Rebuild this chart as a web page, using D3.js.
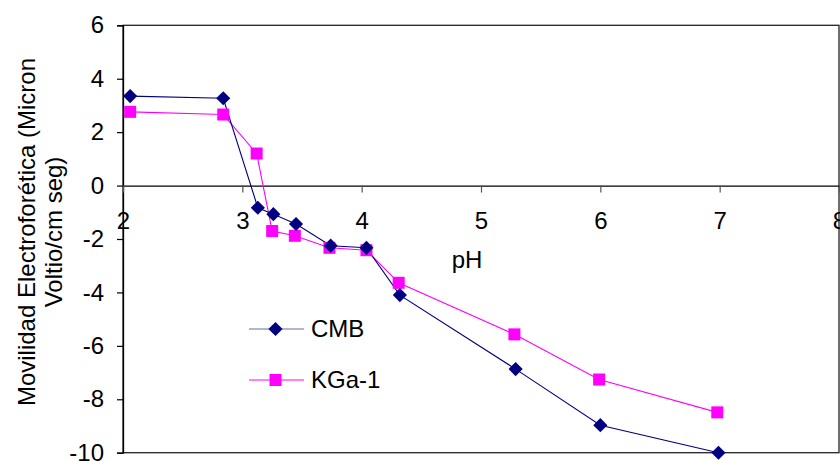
<!DOCTYPE html>
<html>
<head>
<meta charset="utf-8">
<script src="https://cdn.jsdelivr.net/npm/d3@7"></script>
<style>
  html, body { margin: 0; padding: 0; background: #fff; }
  svg { display: block; font-family: "Liberation Sans", Arial, sans-serif; }
</style>
</head>
<body>
<svg id="chart" width="840" height="461"></svg>
<script>
// Electrophoretic mobility vs pH for two clays
const seriesNames = ["CMB", "KGa-1"];
const phCMB = [2.06, 2.84, 3.13, 3.26, 3.45, 3.74, 4.04, 4.32, 5.29, 6.0, 6.99];
const mobCMB = [3.35, 3.27, -0.83, -1.07, -1.44, -2.25, -2.33, -4.1, -6.87, -8.97, -10.0];
const phKGa = [2.06, 2.84, 3.12, 3.25, 3.44, 3.73, 4.04, 4.31, 5.28, 5.99, 6.98];
const mobKGa = [2.76, 2.66, 1.2, -1.7, -1.88, -2.33, -2.42, -3.64, -5.57, -7.26, -8.49];
const xTicks = [2, 3, 4, 5, 6, 7, 8];
const yTicks = [-10, -8, -6, -4, -2, 0, 2, 4, 6];
const colors = ["#000080", "#FF00FF"];

const svg = d3.select("#chart");
const plotLeft = 123, plotRight = 839, plotTop = 25.3, plotBottom = 452.7;
const fontSize = 24;

const x = d3.scaleLinear().domain([2, 8]).range([plotLeft, plotRight]);
const y = d3.scaleLinear().domain([-10, 6]).range([plotBottom, plotTop]);
const plainNum = d => String(d); // hyphen-minus, as in the printed labels

// plot area frame
svg.append("rect")
  .attr("x", plotLeft).attr("y", plotTop)
  .attr("width", plotRight - plotLeft).attr("height", plotBottom - plotTop)
  .attr("fill", "none").attr("stroke", "#222").attr("stroke-width", 1.3);

// y axis
const yAxis = svg.append("g")
  .attr("transform", `translate(${plotLeft},0)`)
  .call(d3.axisLeft(y).tickValues(yTicks).tickSize(6).tickPadding(13).tickFormat(plainNum));
yAxis.select(".domain").attr("stroke", "#000").attr("stroke-width", 1.3);
yAxis.selectAll(".tick line").attr("stroke", "#000").attr("stroke-width", 1.2);
yAxis.selectAll(".tick text")
  .attr("font-size", fontSize).attr("fill", "#000")
  .attr("font-family", "Liberation Sans, Arial, sans-serif");

// x axis drawn along zero
const xAxis = svg.append("g")
  .attr("transform", `translate(0,${y(0)})`)
  .call(d3.axisBottom(x).tickValues(xTicks).tickSize(7).tickPadding(19).tickFormat(plainNum).tickSizeOuter(0));
xAxis.select(".domain").attr("stroke", "#000").attr("stroke-width", 1.3);
xAxis.selectAll(".tick line").attr("stroke", "#555").attr("stroke-width", 1.2);
xAxis.selectAll(".tick text")
  .attr("font-size", fontSize).attr("fill", "#000")
  .attr("font-family", "Liberation Sans, Arial, sans-serif");

// axis titles
svg.append("text")
  .attr("x", 467).attr("y", 268)
  .attr("text-anchor", "middle")
  .attr("font-size", fontSize)
  .text("pH");

const yTitle = svg.append("text")
  .attr("transform", "translate(35,232) rotate(-90)")
  .attr("text-anchor", "middle")
  .attr("font-size", fontSize);
yTitle.append("tspan").attr("x", 0).attr("dy", 0).text("Movilidad Electroforética (Micron");
yTitle.append("tspan").attr("x", 0).attr("dy", 27).text("Voltio/cm seg)");

// marker shapes: diamond is a square turned 45°
const diamond = d3.symbol().type(d3.symbolSquare).size(100);
const square = d3.symbol().type(d3.symbolSquare).size(144);

const series = [
  { name: seriesNames[0], xs: phCMB, ys: mobCMB, color: colors[0], path: diamond, rot: 45 },
  { name: seriesNames[1], xs: phKGa, ys: mobKGa, color: colors[1], path: square, rot: 0 }
];

const line = d3.line().x(d => x(d[0])).y(d => y(d[1]));

// KGa-1 drawn first so CMB sits on top where they overlap
series.slice().reverse().forEach(s => {
  const pts = s.xs.map((v, i) => [v, s.ys[i]]);
  svg.append("path")
    .datum(pts)
    .attr("d", line)
    .attr("fill", "none")
    .attr("stroke", s.color)
    .attr("stroke-width", 1.1);
});
series.slice().reverse().forEach(s => {
  const pts = s.xs.map((v, i) => [v, s.ys[i]]);
  svg.selectAll(null)
    .data(pts)
    .enter().append("path")
    .attr("transform", d => `translate(${x(d[0])},${y(d[1])}) rotate(${s.rot})`)
    .attr("d", s.path())
    .attr("fill", s.color);
});

// legend
const legend = svg.append("g");
series.forEach((s, i) => {
  const ly = 329 + i * 51;
  legend.append("line")
    .attr("x1", 249).attr("x2", 304)
    .attr("y1", ly).attr("y2", ly)
    .attr("stroke", i === 0 ? "#6a6aa8" : s.color)
    .attr("stroke-width", 1.2);
  legend.append("path")
    .attr("transform", `translate(275.5,${ly}) rotate(${s.rot})`)
    .attr("d", s.path())
    .attr("fill", s.color);
  legend.append("text")
    .attr("x", 311).attr("y", ly + 7.5)
    .attr("font-size", fontSize)
    .text(s.name);
});
</script>
</body>
</html>
